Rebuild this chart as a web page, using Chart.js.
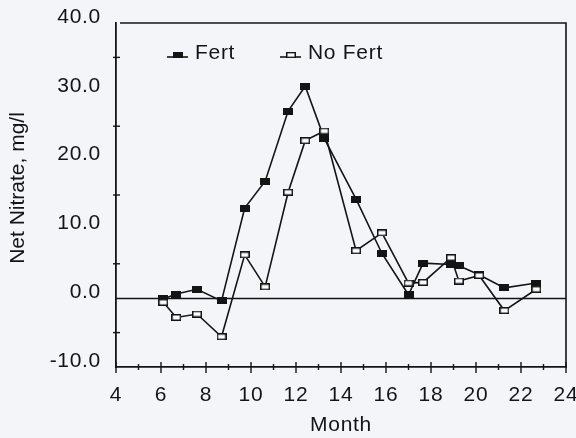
<!DOCTYPE html>
<html><head><meta charset="utf-8">
<script src="https://cdn.jsdelivr.net/npm/chart.js@4.4.0/dist/chart.umd.min.js"></script>
<style>html,body{margin:0;padding:0;background:#f4f5f9;} #wrap{width:576px;height:438px;position:relative;}</style>
</head><body><div id="wrap"><canvas id="c"></canvas></div>
<script>
// ---- data ----
const months = [6.1, 6.68, 7.6, 8.69, 9.72, 10.63, 11.65, 12.41, 13.26, 14.67, 15.82, 17.0, 17.65, 18.89, 19.24, 20.14, 21.26, 22.68];
const fert   = [-0.1, 0.6, 1.3, -0.4, 13.1, 17.0, 27.2, 30.8, 23.2, 14.4, 6.5, 0.5, 5.1, 4.9, 4.7, 3.4, 1.5, 2.2];
const noFert = [-0.6, -2.8, -2.3, -5.6, 6.3, 1.65, 15.4, 22.9, 24.3, 6.9, 9.5, 2.2, 2.3, 5.9, 2.5, 3.3, -1.8, 1.3];
const seriesNames = ['Fert', 'No Fert'];
const xRange = [4, 24];
const yRange = [-10, 40];
const xTitle = 'Month';
const yTitle = 'Net Nitrate, mg/l';

const INK = '#141414';
const BG = '#f4f5f9';
const FONT = "'Liberation Sans', Arial, sans-serif";
const SPACING = '0.7px';

function makeMarker(filled) {
  const c = document.createElement('canvas');
  c.width = 10; c.height = 7;
  const g = c.getContext('2d');
  if (filled) { g.fillStyle = INK; g.fillRect(0, 0, 10, 7); }
  else { g.fillStyle = '#ffffff'; g.fillRect(0, 0, 10, 7); g.strokeStyle = INK; g.lineWidth = 1.5; g.strokeRect(0.75, 0.75, 8.5, 5.5); }
  return c;
}
const mFilled = makeMarker(true);
const mOpen = makeMarker(false);

const toPts = (xs, ys) => xs.map((x, i) => ({x: x, y: ys[i]}));

Chart.defaults.font.family = FONT;
Chart.defaults.font.size = 21;
Chart.defaults.color = INK;

const decor = {
  id: 'decor',
  beforeDraw(chart) {
    const ctx = chart.ctx;
    ctx.save(); ctx.fillStyle = BG; ctx.fillRect(0, 0, chart.width, chart.height); ctx.restore();
    ctx.letterSpacing = SPACING;
  },
  beforeDatasetsDraw(chart) {
    const {ctx, chartArea: a, scales: {x, y}} = chart;
    ctx.save();
    ctx.strokeStyle = INK; ctx.lineWidth = 1.6;
    const y0 = Math.round(y.getPixelForValue(0)) + 0.5;
    ctx.beginPath(); ctx.moveTo(a.left, y0); ctx.lineTo(a.right, y0); ctx.stroke();
    ctx.beginPath(); ctx.moveTo(a.left + 4, a.top); ctx.lineTo(a.right, a.top); ctx.lineTo(a.right, a.bottom); ctx.stroke();
    ctx.lineWidth = 1.4;
    for (let v = x.min; v <= x.max; v += 1) {
      const px = x.getPixelForValue(v);
      const major = (v % 2 === 0);
      ctx.beginPath();
      ctx.moveTo(px, a.bottom - (major ? 5 : 3));
      ctx.lineTo(px, a.bottom + (major ? 6 : 3));
      ctx.stroke();
    }
    for (let v = y.min + 5; v < y.max; v += 10) {
      const py = y.getPixelForValue(v);
      ctx.beginPath(); ctx.moveTo(a.left - 3, py); ctx.lineTo(a.left + 4, py); ctx.stroke();
    }
    ctx.restore();
  },
  afterDraw(chart) {
    const {ctx, chartArea: a} = chart;
    const items = [
      {label: chart.data.datasets[0].label, img: mFilled, x0: a.left + 51},
      {label: chart.data.datasets[1].label, img: mOpen, x0: a.left + 164}
    ];
    ctx.save();
    ctx.font = '21px ' + FONT;
    ctx.letterSpacing = SPACING;
    ctx.fillStyle = INK; ctx.strokeStyle = INK; ctx.lineWidth = 1.6;
    ctx.textBaseline = 'alphabetic'; ctx.textAlign = 'left';
    items.forEach(it => {
      const ly = a.top + 34;
      ctx.beginPath(); ctx.moveTo(it.x0, ly); ctx.lineTo(it.x0 + 21, ly); ctx.stroke();
      ctx.drawImage(it.img, it.x0 + 6, ly - 5, 10, 6);
      ctx.fillText(it.label, it.x0 + 28, a.top + 36);
    });
    ctx.restore();
  }
};

function wrapYTitle(s) {
  if (s._wrappedTitle) return;
  const orig = s.drawTitle;
  s.drawTitle = function () {
    const ctx = this.ctx;
    ctx.save();
    ctx.letterSpacing = '0px';
    ctx.translate(0, -7);
    orig.call(this);
    ctx.restore();
  };
  s._wrappedTitle = true;
}

new Chart(document.getElementById('c'), {
  type: 'line',
  data: {
    datasets: [
      {label: seriesNames[0], data: toPts(months, fert), borderColor: INK, borderWidth: 1.6,
       pointStyle: mFilled, pointRadius: 5, order: 1, tension: 0},
      {label: seriesNames[1], data: toPts(months, noFert), borderColor: INK, borderWidth: 1.6,
       pointStyle: mOpen, pointRadius: 5, order: 0, tension: 0}
    ]
  },
  options: {
    responsive: true, maintainAspectRatio: false, animation: false,
    layout: {padding: {left: 0, top: 23, right: 10, bottom: 0}},
    plugins: {legend: {display: false}, tooltip: {enabled: false}},
    scales: {
      x: {
        type: 'linear', min: xRange[0], max: xRange[1],
        ticks: {stepSize: 2, padding: 16, color: INK, callback: v => String(v)},
        grid: {display: false, drawTicks: false},
        border: {display: true, color: INK, width: 1.8},
        title: {display: true, text: xTitle, color: INK, padding: {top: 0, bottom: 0}},
        afterFit(s) { s.height = 71; s.paddingLeft = 0; s.paddingRight = 0; }
      },
      y: {
        min: yRange[0], max: yRange[1],
        ticks: {stepSize: 10, padding: 15, labelOffset: -6, color: INK, callback: v => Number(v).toFixed(1)},
        grid: {display: false, drawTicks: false},
        border: {display: true, color: INK, width: 1.8},
        title: {display: true, text: yTitle, color: INK, padding: {top: 6, bottom: 0}},
        afterFit(s) { s.width = 116; s.paddingTop = 0; s.paddingBottom = 0; wrapYTitle(s); }
      }
    }
  },
  plugins: [decor]
});
</script>
</body></html>
